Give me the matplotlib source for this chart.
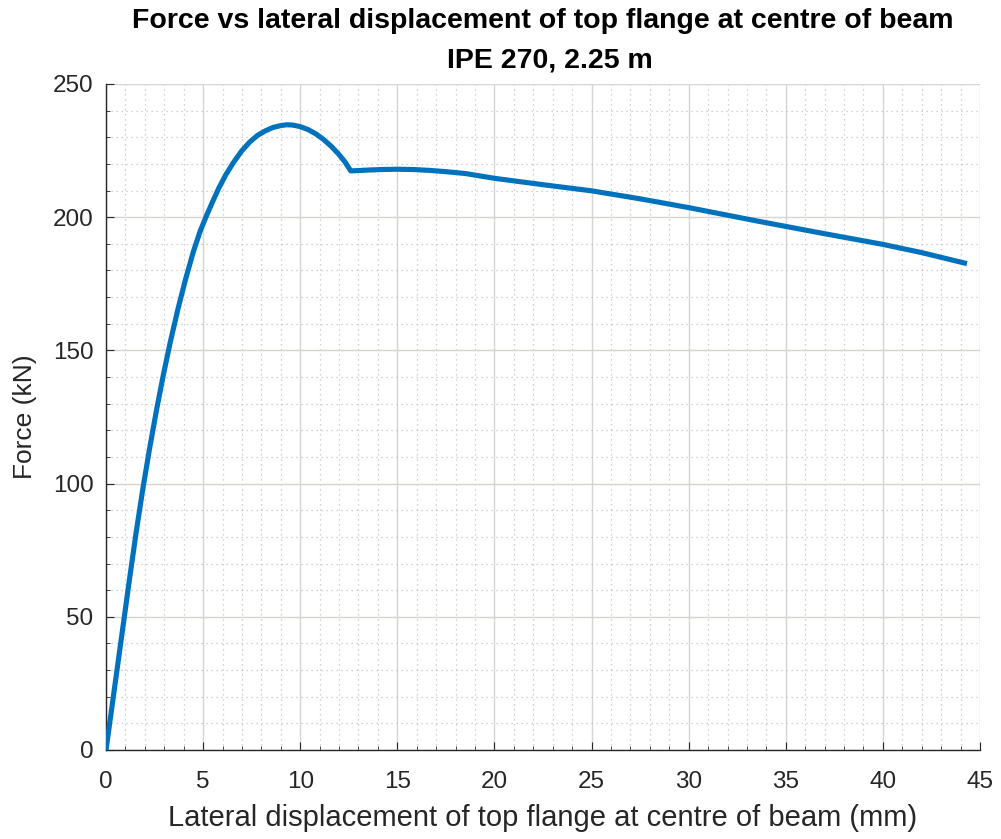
import numpy as np
import matplotlib.pyplot as plt
from matplotlib.ticker import MultipleLocator

plt.rcParams['font.family'] = ['Liberation Sans', 'DejaVu Sans']

# lateral displacement of top flange (mm) vs applied force (kN)
disp = [0, 0.4, 0.8, 1.2, 1.55, 1.9, 2.25, 2.6, 2.95, 3.3, 3.7, 4.1, 4.5,
        4.85, 5.2, 5.5, 5.8, 6.15, 6.55, 7.0, 7.4, 7.8, 8.2, 8.6, 9.0, 9.3,
        9.6, 10.0, 10.4, 10.8, 11.2, 11.6, 12.0, 12.3, 12.6,
        13.0, 13.5, 14.2, 15.0, 15.8, 16.6, 17.5, 18.5, 20.0, 22.5, 25.0,
        27.5, 30.0, 33.5, 37.0, 40.0, 42.0, 44.2]
force = [0, 21.2, 42.4, 63.6, 81.6, 98.2, 113.4, 127.6, 140.7, 152.8, 165.4, 176.8, 187.1,
         194.8, 201.0, 206.0, 210.8, 215.7, 220.4, 225.0, 228.2, 230.7, 232.4, 233.7, 234.4, 234.7,
         234.6, 234.0, 232.9, 231.3, 229.2, 226.6, 223.5, 220.8, 217.4,
         217.5, 217.7, 217.9, 218.0, 217.9, 217.6, 217.1, 216.4, 214.6, 212.2, 209.9,
         206.9, 203.6, 198.6, 193.8, 189.8, 186.7, 182.8]

fig = plt.figure(figsize=(10.01, 8.39), dpi=100)
ax = fig.add_axes([106/1001, 1-750/839, 874/1001, 666/839])

ax.plot(disp, force, color='#0072BD', lw=3.7, solid_joinstyle='round', zorder=3)

ax.set_xlim(0, 45)
ax.set_ylim(0, 250)
ax.xaxis.set_major_locator(MultipleLocator(5))
ax.xaxis.set_minor_locator(MultipleLocator(1))
ax.yaxis.set_major_locator(MultipleLocator(50))
ax.yaxis.set_minor_locator(MultipleLocator(10))

ax.grid(which='major', color='#d6d3d0', lw=1.0, ls='-')
ax.grid(which='minor', color='#c2c2c2', lw=0.9, ls=(0, (1, 3)))
ax.set_axisbelow(True)

for s in ['top', 'right']:
    ax.spines[s].set_visible(False)
for s in ['left', 'bottom']:
    ax.spines[s].set_color('#262626')
    ax.spines[s].set_linewidth(1.0)

ax.tick_params(which='both', direction='in', colors='#262626', labelsize=17.5,
               labelcolor='#262626')
ax.tick_params(which='major', length=6)
ax.tick_params(which='minor', length=3)
ax.tick_params(axis='x', pad=15)
ax.tick_params(axis='y', pad=9)

ax.set_xlabel('Lateral displacement of top flange at centre of beam (mm)',
              fontsize=21, color='#262626', labelpad=8)
ax.set_ylabel('Force (kN)', fontsize=19, color='#262626', labelpad=11)

fig.text(543/1001, 1-28.5/839, 'Force vs lateral displacement of top flange at centre of beam',
         ha='center', va='baseline', fontsize=20.5, fontweight='bold')
fig.text(550/1001, 1-68/839, 'IPE 270, 2.25 m',
         ha='center', va='baseline', fontsize=20.5, fontweight='bold')

fig.savefig('out.png', dpi=100)
